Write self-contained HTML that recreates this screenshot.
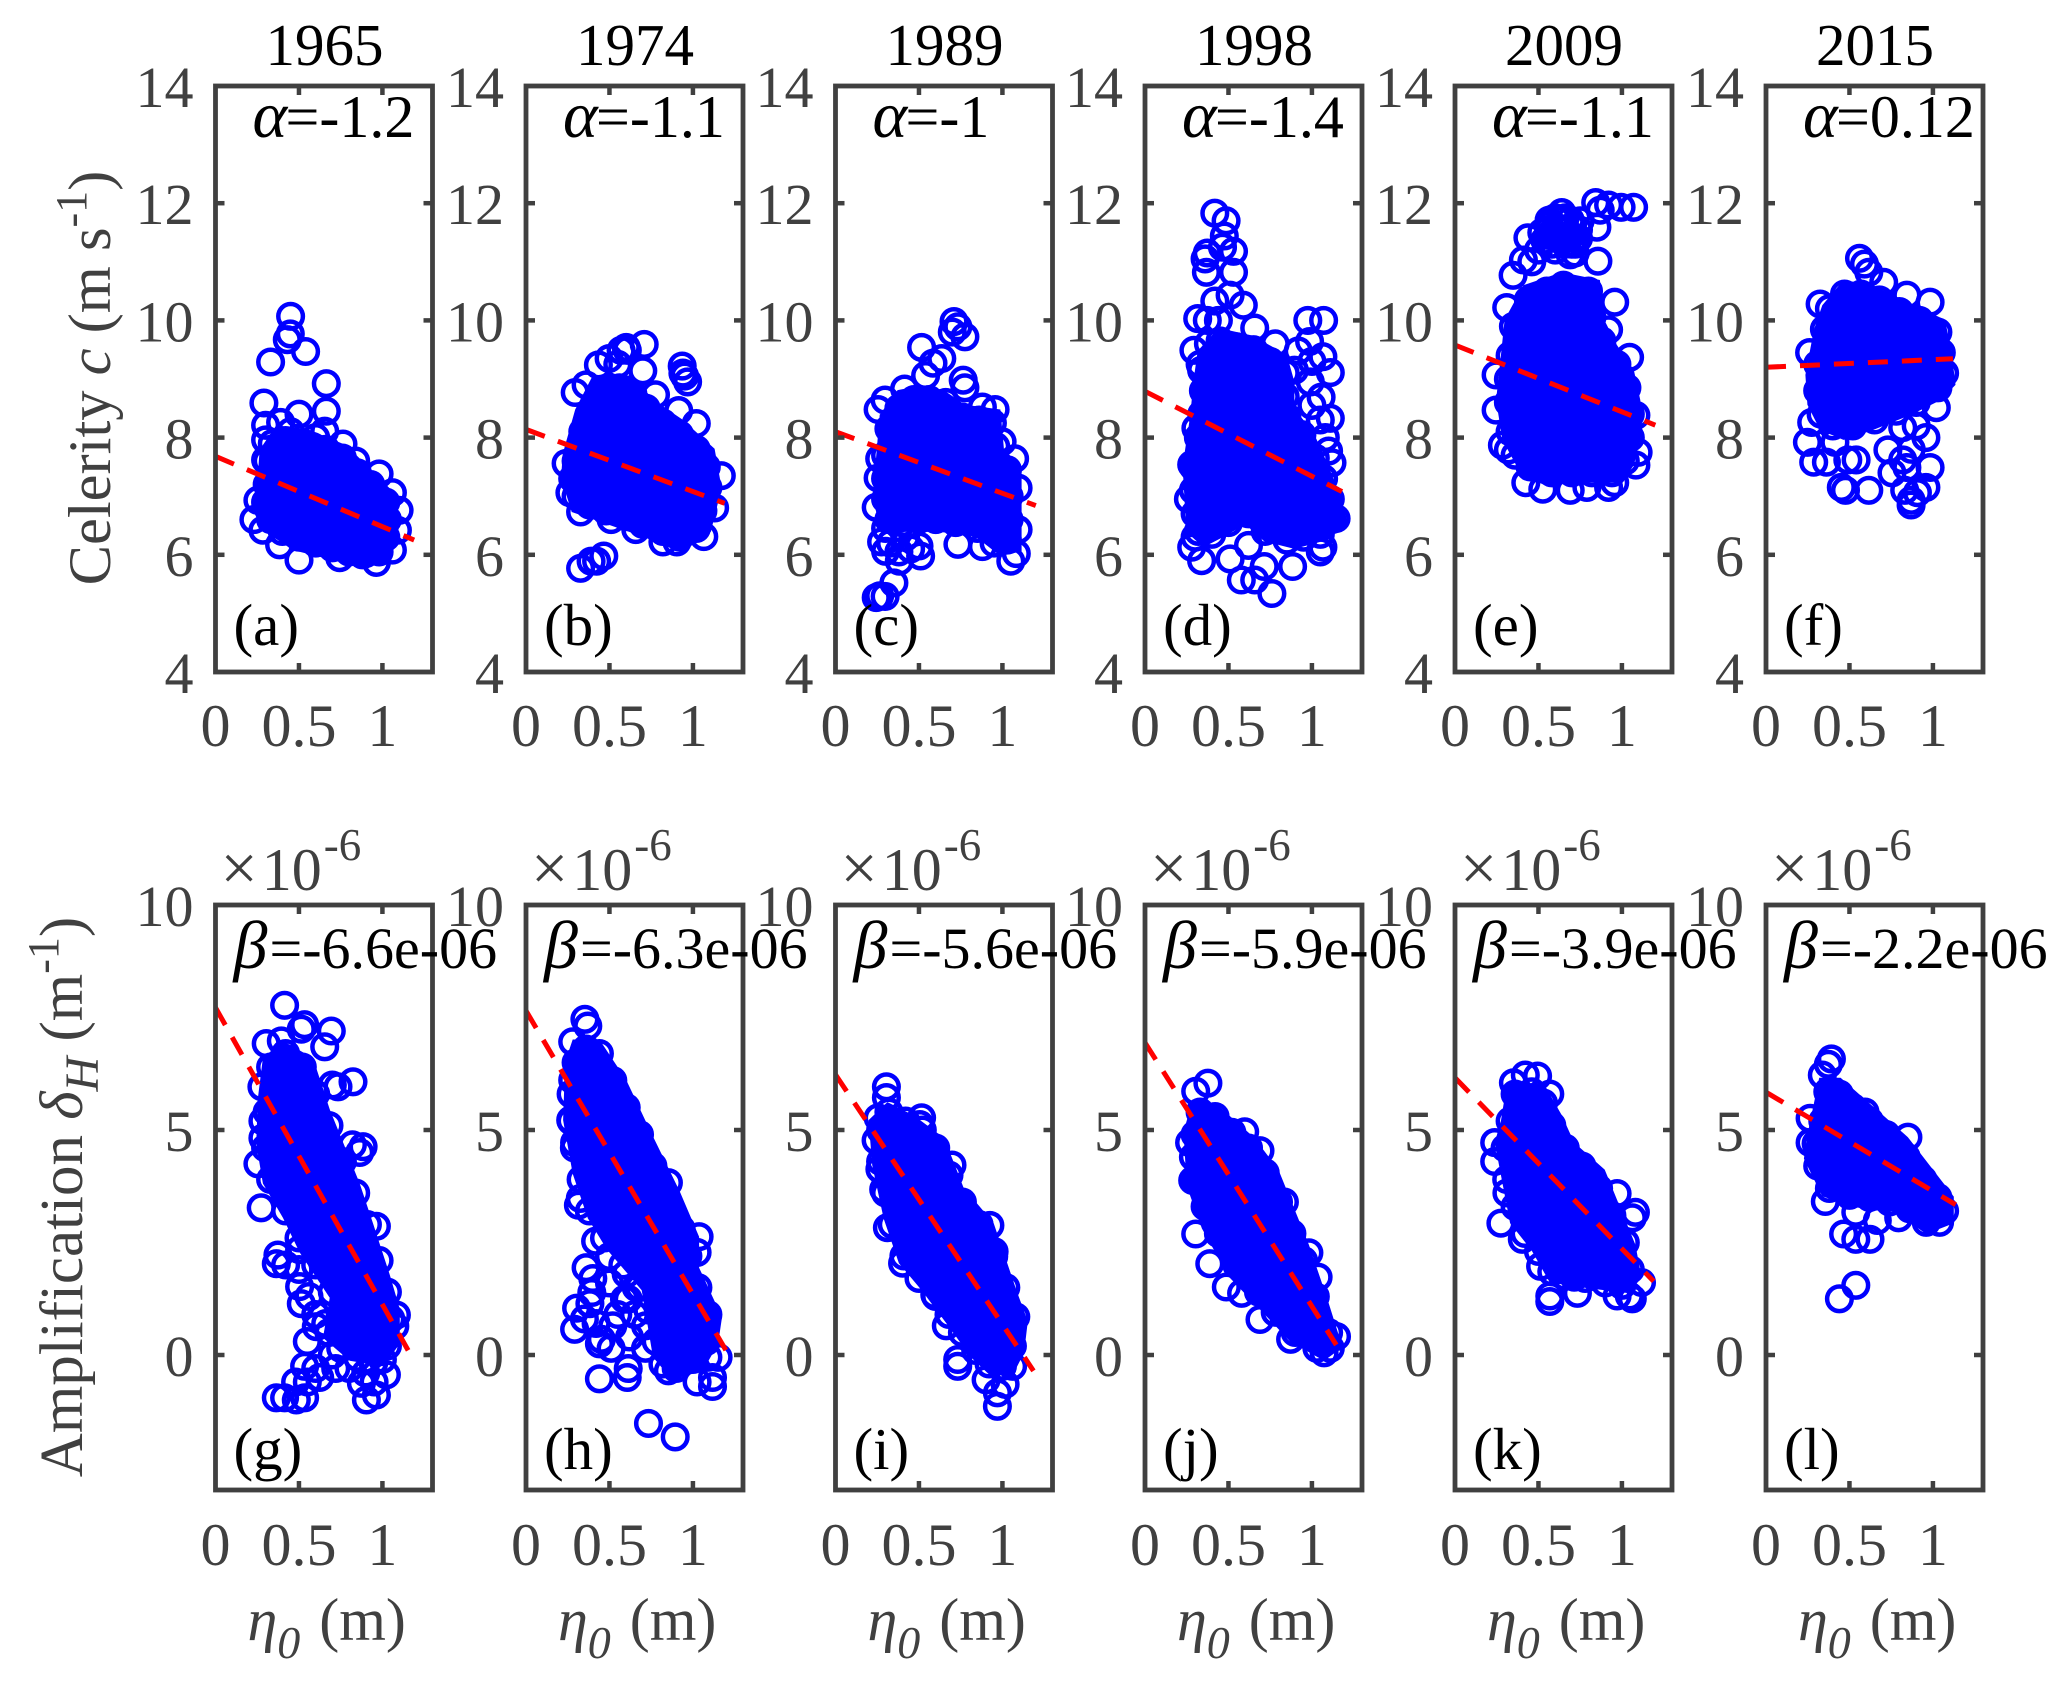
<!DOCTYPE html>
<html lang="en">
<head>
<meta charset="utf-8">
<title>Celerity and amplification versus tidal amplitude</title>
<style>
html,body{margin:0;padding:0;background:#fff;}
svg{display:block;font-family:"Liberation Serif","DejaVu Serif",serif;}
</style>
</head>
<body>
<svg id="chart" xmlns="http://www.w3.org/2000/svg" width="2067" height="1692" viewBox="0 0 2067 1692">
<rect x="0" y="0" width="2067" height="1692" fill="#fff"/>
<text transform="translate(110,378) rotate(-90)" text-anchor="middle" font-size="60.5" fill="#404040">Celerity <tspan font-style="italic">c</tspan> (m s<tspan dy="-24" font-size="44">-1</tspan><tspan dy="24">)</tspan></text>
<text transform="translate(82,1197) rotate(-90)" text-anchor="middle" font-size="61" fill="#404040">Amplification <tspan font-style="italic">δ</tspan><tspan dy="16" font-size="48" font-style="italic">H</tspan><tspan dy="-16"> (m</tspan><tspan dy="-24" font-size="44">-1</tspan><tspan dy="24">)</tspan></text>
</svg>
<script>
const years = ['1965','1974','1989','1998','2009','2015'];
const topLetters = ['(a)','(b)','(c)','(d)','(e)','(f)'];
const bottomLetters = ['(g)','(h)','(i)','(j)','(k)','(l)'];
const alphaLabels = ['-1.2','-1.1','-1','-1.4','-1.1','0.12'];
const betaLabels = ['-6.6e-06','-6.3e-06','-5.6e-06','-5.9e-06','-3.9e-06','-2.2e-06'];
const xTicks = [0,0.5,1];
const xTickLabels = ['0','0.5','1'];
const celerityTicks = [4,6,8,10,12,14];
const amplificationTicks = [0,5,10];

const celerityIntercepts = [7.68,8.14,8.10,8.79,9.58,9.20];
const celeritySlopes = [-1.2,-1.06,-1.05,-1.45,-1.14,0.13];
const celerityFitEnds = [1.19,1.19,1.2,1.18,1.2,1.12];
const amplificationIntercepts = [7.72,7.65,6.23,6.94,6.16,5.84];
const amplificationSlopes = [-6.6,-6.3,-5.55,-5.86,-3.8,-2.2];
const amplificationFitEnds = [1.154,1.197,1.186,1.146,1.19,1.136];

/* Scatter points (eta0 in m, celerity in m/s) */
const pointsA = [[.45,10.07],[.448,9.77],[.43,9.67],[.54,9.47],[.33,9.29],[.664,8.92],[.29,8.59],[.664,8.45],[.5,8.4],[.654,8.11],[.3,8.21],[.39,8.26],[.764,7.89],[.98,7.38],[1.06,7.06],[1.1,6.76],[1.09,6.42],[1.06,6.08],[.964,5.87],[.88,6.0],[.744,5.95],[.5,5.91],[.384,6.17],[.284,6.42],[.23,6.6],[.254,6.93],[.3,7.62],[.3,7.96],[.84,7.6],[.6,8.0],[.45,8.1],
[.31,7.6],[.34,7.9],[.42,7.95],[.5,7.9],[.58,7.85],[.66,7.8],[.76,7.65],[.85,7.4],[.93,7.2],[1.02,6.9],[1.03,6.6],[1.02,6.3],[.98,6.05],[.9,6.02],[.8,6.05],[.7,6.12],[.6,6.2],[.5,6.3],[.4,6.4],[.33,6.6],[.3,6.9],[.31,7.2]];
const coreA = [[.264,7.79],[.364,8.21],[.564,8.13],[.784,7.87],[.904,7.53],[1.084,7.02],[1.104,6.51],[1.044,5.91],[.884,5.78],[.704,5.91],[.464,6.08],[.284,6.42],[.224,6.76],[.254,7.37]];

const pointsB = [[.708,9.59],[.607,9.49],[.57,9.49],[.498,9.35],[.434,9.24],[.6,9.54],[.295,8.77],[.7,9.14],[.936,9.22],[.94,9.1],[.968,8.95],[.95,9.05],[.776,8.73],[.915,8.46],[1.02,8.24],[1.17,7.35],[1.13,6.8],[1.065,6.31],[.904,6.22],[.82,6.22],[.658,6.43],[.51,6.6],[.327,6.73],[.263,7.06],[.24,7.56],[.327,5.77],[.39,5.89],[.466,5.98],[.423,5.89],[.36,8.9],[.55,9.25],
[.3,7.6],[.34,8.1],[.41,8.5],[.47,8.82],[.56,8.85],[.64,8.75],[.72,8.5],[.82,8.25],[.92,8.05],[1.02,7.8],[1.08,7.5],[1.09,7.15],[1.06,6.75],[1.02,6.45],[.92,6.3],[.82,6.4],[.7,6.52],[.6,6.65],[.48,6.75],[.38,6.85],[.3,7.0],[.28,7.3]];
const coreB = [[.22,7.72],[.295,8.48],[.4,9.06],[.637,9.06],[.765,8.64],[.936,8.31],[1.13,7.81],[1.172,7.14],[1.107,6.39],[.915,6.06],[.7,6.31],[.487,6.52],[.274,6.73],[.21,7.31]];

const pointsC = [[.71,9.98],[.733,9.89],[.775,9.72],[.7,9.8],[.516,9.54],[.584,9.27],[.637,9.35],[.54,9.06],[.765,8.98],[.775,8.85],[.414,8.83],[.297,8.64],[.255,8.48],[.956,8.48],[.88,8.52],[.998,7.93],[1.073,7.64],[1.094,7.14],[1.094,6.43],[1.083,6.02],[1.05,5.89],[.88,6.14],[.733,6.18],[.51,5.98],[.382,5.89],[.3,6.06],[.35,5.52],[.244,5.27],[.297,5.29],[.265,5.3],[.276,6.22],[.244,6.81],[.255,7.31],[.265,7.64],
[.32,8.15],[.38,8.5],[.47,8.65],[.56,8.65],[.66,8.6],[.76,8.35],[.86,8.3],[.94,8.25],[.96,7.85],[1.03,7.45],[1.04,7.0],[1.04,6.6],[1.03,6.25],[.95,6.2],[.85,6.45],[.72,6.55],[.6,6.6],[.5,6.6],[.4,6.55],[.32,6.6],[.3,6.95],[.3,7.3],[.3,7.7],[.33,6.2],[.38,6.05],[.45,6.1],[.3,6.45],[.42,6.3],[.5,6.15]];
const coreC = [[.265,8.39],[.372,8.81],[.52,8.89],[.648,8.81],[.775,8.56],[.988,8.48],[1.009,7.81],[1.115,7.48],[1.115,6.64],[1.115,6.06],[.988,5.98],[.839,6.31],[.626,6.39],[.414,6.39],[.329,6.31],[.265,6.48],[.223,6.98]];

const pointsD = [[.418,11.83],[.486,11.7],[.475,11.44],[.373,11.15],[.36,11.05],[.53,11.18],[.464,11.25],[.368,10.82],[.53,10.82],[.51,10.43],[.589,10.26],[.418,10.33],[.316,10.03],[.373,10.0],[.44,10.0],[.657,9.87],[.78,9.6],[.975,10.0],[1.07,10.0],[.986,9.64],[.293,9.49],[1.066,9.38],[1.11,9.11],[1.055,8.69],[1.11,8.33],[1.1,7.77],[1.12,7.57],[1.145,6.62],[1.066,6.13],[1.05,6.05],[.884,5.8],[.714,5.8],[.62,6.16],[.76,5.34],[.657,5.57],[.577,5.57],[.51,5.93],[.339,5.9],[.28,6.13],[.3,6.3],[.26,6.95],[.28,7.54],[.305,8.16],[.339,9.15],[.918,9.48],[.895,9.15],[1.0,9.3],[.99,8.95],[1.0,8.55],[1.05,8.3],[1.08,8.0],
[.33,9.25],[.38,9.6],[.45,9.65],[.55,9.55],[.65,9.5],[.75,9.3],[.84,9.1],[.84,8.7],[.85,8.35],[.94,8.05],[1.02,7.65],[1.07,7.3],[1.11,6.95],[1.12,6.6],[1.05,6.35],[.95,6.3],[.85,6.25],[.72,6.4],[.62,6.7],[.5,6.55],[.4,6.35],[.32,6.4],[.3,6.7],[.29,7.1],[.29,7.5],[.32,8.0],[.34,8.4],[.35,8.8]];
const coreD = [[.316,9.48],[.441,9.87],[.645,9.74],[.85,9.41],[.895,8.95],[.895,8.49],[1.009,8.09],[1.1,7.51],[1.18,6.92],[1.19,6.52],[1.1,6.26],[.895,6.1],[.714,6.23],[.6,6.52],[.486,6.33],[.35,6.13],[.248,6.39],[.225,7.51],[.27,8.36],[.293,9.02]];

const pointsE = [[1.07,11.93],[.995,11.93],[.92,11.97],[.843,12.01],[.87,11.88],[.85,11.59],[.69,11.12],[.856,11.01],[.437,11.41],[.41,11.03],[.348,10.77],[.564,11.71],[.64,11.84],[.31,10.22],[.957,10.31],[.92,9.84],[1.046,9.37],[.246,9.07],[.246,8.47],[1.084,8.38],[1.097,7.75],[1.084,7.53],[.284,7.87],[.32,7.79],[.424,7.23],[.526,7.12],[.69,7.1],[.92,7.15],[.957,7.23],[.79,7.15],[.564,11.63],[.615,11.46],[.69,11.71],[.69,11.46],[.538,11.37],[.64,11.71],[.66,11.3],[.6,11.2],[.5,11.2],[.46,11.0],[.75,11.7],[.74,11.4],[.72,11.15],[.62,11.55],[.56,11.45],[.66,11.55],[.6,11.75],[.7,11.6],[.58,11.3],[.64,11.4],[.7,11.3],[.68,11.4],[.56,11.55],[.74,11.55],[.66,11.75],[.72,11.3],[.6,11.6],[.52,11.5],
[.33,9.4],[.35,9.9],[.44,10.35],[.55,10.5],[.65,10.6],[.8,10.5],[.82,10.05],[.88,9.65],[.97,9.25],[1.03,8.85],[1.05,8.4],[1.05,8.0],[1.02,7.6],[.94,7.4],[.82,7.4],[.7,7.4],[.58,7.4],[.45,7.5],[.36,7.7],[.33,8.1],[.32,8.6],[.32,9.0]];
const coreE = [[.272,9.32],[.297,10.01],[.41,10.6],[.64,10.82],[.868,10.69],[.894,10.01],[.97,9.58],[1.072,9.15],[1.11,8.64],[1.122,8.13],[1.072,7.53],[.996,7.23],[.79,7.23],[.538,7.19],[.399,7.36],[.284,7.96],[.246,8.64]];

const pointsF = [[.56,11.06],[.59,10.96],[.616,10.82],[.705,10.65],[.844,10.43],[.983,10.31],[.324,10.28],[.261,9.45],[.274,8.26],[.248,7.92],[.286,7.58],[.362,7.58],[.54,7.62],[.49,7.62],[.451,7.15],[.476,7.1],[.616,7.1],[.73,7.79],[.755,7.4],[.819,7.62],[.844,7.49],[.983,7.49],[.958,8.0],[.819,8.17],[.831,7.1],[.958,7.15],[.869,6.85],[.869,6.93],[.907,7.06],[1.02,8.51],[.413,7.92],[.87,7.8],[.9,8.2],
[.35,9.85],[.38,10.2],[.47,10.45],[.57,10.45],[.68,10.35],[.8,10.15],[.92,10.0],[1.03,9.8],[1.05,9.45],[1.07,9.1],[1.03,8.85],[.9,8.6],[.78,8.45],[.65,8.3],[.52,8.2],[.4,8.2],[.33,8.4],[.31,8.8],[.31,9.25]];
const coreF = [[.337,10.26],[.464,10.69],[.641,10.6],[.82,10.35],[1.072,10.01],[1.11,9.5],[1.135,8.9],[1.046,8.64],[.869,8.39],[.641,8.13],[.464,7.96],[.324,8.13],[.248,8.56],[.236,9.07],[.287,9.84]];

/* Scatter points (eta0 in m, amplification in 1e-6 per m) */
const pointsG = [[.414,7.77],[.534,7.34],[.514,7.24],[.694,7.2],[.304,6.92],[.394,6.98],[.654,6.85],[.824,6.07],[.734,5.96],[.278,5.96],[.7,6.0],[.284,5.2],[.284,4.82],[.254,4.25],[.274,3.27],[.884,4.63],[.864,4.5],[.82,4.67],[.964,2.86],[.374,2.22],[.364,2.03],[.504,2.34],[.504,1.52],[.514,1.14],[.604,.63],[1.084,.89],[1.074,.64],[.534,-.25],[.624,-.5],[.364,-.95],[.414,-.95],[.534,-.95],[.484,-1.0],[.904,-1.0],[.964,-.89],[1.024,-.44],[.874,-.63],
[.33,6.4],[.42,6.7],[.52,6.4],[.6,5.8],[.68,5.1],[.76,4.3],[.84,3.6],[.91,2.9],[.98,2.1],[1.03,1.4],[1.05,.8],[1.03,.2],[.95,-.15],[.85,-.05],[.75,.15],[.68,.5],[.6,.9],[.7,1.4],[.6,2.0],[.5,2.6],[.42,3.2],[.33,3.9],[.3,4.6],[.31,5.4],[.42,2.0],[.5,1.9],[.56,1.3],[.66,.7],[.55,.3],[.7,.0],[.6,-.3],[.48,-.6],[.55,-.6],[.72,-.3],[.95,-.6],[.9,-.4],[1.0,-.1],[.8,-.3]];
const coreG = [[.284,6.6],[.404,6.98],[.584,6.6],[.684,5.46],[.864,3.81],[.944,2.92],[1.044,1.78],[1.104,1.02],[1.104,.25],[1.004,-.25],[.804,-.13],[.644,.38],[.684,1.27],[.504,2.28],[.404,3.05],[.284,3.81],[.244,4.7],[.254,5.71]];

const pointsH = [[.353,7.46],[.37,7.31],[.28,6.96],[.28,6.11],[.268,5.22],[.291,4.72],[.314,3.33],[.325,3.48],[.417,2.53],[.36,1.94],[.394,1.39],[.303,1.04],[.383,1.14],[.291,.57],[.52,.65],[.452,.35],[.44,.25],[.51,.15],[.59,1.24],[.612,1.24],[.716,.65],[.716,.15],[.44,-.53],[.606,-.5],[.612,-.3],[.734,-1.52],[.894,-1.82],[.853,-.35],[1.025,-.6],[1.117,-.7],[1.117,-.5],[1.151,-.05],[1.09,-.05],[1.037,2.63],[1.025,2.28],[.853,3.83],[.5,2.19],
[.3,6.5],[.36,6.8],[.44,6.7],[.52,6.1],[.6,5.5],[.68,4.9],[.76,4.2],[.84,3.5],[.93,2.8],[.97,2.2],[1.03,1.5],[1.09,.9],[1.08,.3],[1.0,-.1],[.9,-.3],[.82,-.2],[.78,.3],[.73,1.0],[.68,1.5],[.58,2.0],[.47,2.6],[.38,3.2],[.33,3.9],[.29,4.6],[.27,5.2],[.27,5.8],[.4,1.7],[.5,1.6],[.6,1.8],[.66,1.5],[.55,.9],[.42,.7],[.35,.8],[.62,.4],[.65,.9]];
const coreH = [[.234,6.51],[.28,7.01],[.44,7.01],[.601,6.11],[.739,5.02],[.922,3.63],[1.037,2.63],[1.037,1.94],[1.174,.84],[1.151,.25],[1.06,-.35],[.876,-.55],[.761,-.05],[.693,1.44],[.486,2.34],[.37,3.04],[.28,4.03],[.222,5.22]];

const pointsI = [[.305,5.96],[.305,5.72],[.516,5.27],[.505,5.12],[.255,5.27],[.243,4.77],[.266,4.13],[.289,3.68],[.698,4.22],[.311,2.83],[.925,2.88],[.948,2.19],[.402,2.04],[.595,1.34],[.664,.65],[.732,-.25],[.732,-.1],[1.061,-.25],[1.016,-.65],[.97,-.84],[.97,-1.14],[.902,-.55],
[.27,5.0],[.32,5.4],[.42,5.2],[.52,5.0],[.6,4.6],[.68,4.0],[.76,3.4],[.86,2.9],[.95,2.3],[1.02,1.5],[1.08,.85],[1.06,.2],[1.0,-.25],[.92,-.2],[.84,.1],[.76,.5],[.68,.9],[.6,1.3],[.5,1.7],[.41,2.2],[.34,2.9],[.3,3.6],[.27,4.3]];
const coreI = [[.198,5.22],[.311,5.62],[.47,5.32],[.652,4.82],[.766,3.73],[.948,2.93],[1.084,1.44],[1.152,.75],[1.13,.05],[1.061,-.45],[.925,-.45],[.811,-.05],[.675,.65],[.516,1.44],[.38,2.04],[.289,3.03],[.22,4.22]];

const pointsJ = [[.377,6.04],[.304,5.86],[.267,4.72],[.286,3.88],[.304,2.69],[.388,2.03],[.487,1.51],[.579,1.37],[.689,.79],[.872,.35],[1.073,.05],[1.147,.41],[1.037,1.73],[.982,2.27],[.835,3.4],[.689,4.54],[.597,4.96],
[.3,4.9],[.33,5.4],[.42,5.3],[.52,4.95],[.62,4.6],[.72,4.05],[.8,3.4],[.88,2.7],[.95,2.1],[1.02,1.3],[1.1,.5],[1.11,.15],[1.03,.15],[.9,.5],[.78,.95],[.68,1.4],[.55,2.0],[.44,2.7],[.36,3.3],[.31,3.9],[.29,4.4]];
const coreJ = [[.231,4.96],[.286,5.68],[.432,5.56],[.652,4.84],[.799,4.12],[.982,2.45],[1.092,1.25],[1.183,.17],[1.073,-.13],[.872,.29],[.689,1.01],[.505,1.73],[.341,2.81],[.249,3.76]];

const pointsK = [[.421,6.22],[.495,6.2],[.35,6.05],[.568,5.8],[.238,4.72],[.238,4.3],[.275,2.93],[.403,2.57],[.311,3.6],[.971,3.59],[1.081,3.17],[1.062,3.05],[.513,1.97],[.568,1.31],[.568,1.19],[.733,1.37],[1.062,1.25],[1.044,1.31],[.971,1.31],[1.117,1.61],[.714,1.73],
[.33,5.2],[.36,5.8],[.46,5.85],[.53,5.6],[.58,5.1],[.66,4.6],[.76,4.2],[.86,3.7],[.94,3.1],[1.02,2.5],[1.05,1.9],[1.0,1.55],[.9,1.6],[.78,1.7],[.66,1.75],[.58,1.85],[.5,2.3],[.42,2.7],[.36,3.3],[.31,3.9],[.3,4.6]];
const coreK = [[.275,5.2],[.311,6.04],[.531,6.04],[.641,5.32],[.714,4.72],[.897,4.12],[1.081,2.45],[1.117,1.73],[1.044,1.37],[.788,1.49],[.568,1.61],[.458,2.33],[.33,2.93],[.275,4.0],[.238,4.72]];

const pointsL = [[.392,6.58],[.374,6.46],[.337,6.22],[.264,5.26],[.264,4.72],[.355,3.41],[.465,2.69],[.538,2.57],[.623,2.57],[.538,1.55],[.44,1.25],[.667,2.99],[.795,3.05],[.538,3.17],[.85,4.84],[.593,5.4],
[.3,4.7],[.34,5.2],[.37,5.85],[.44,5.8],[.52,5.5],[.62,5.2],[.72,4.9],[.84,4.4],[.94,3.9],[1.03,3.5],[1.07,3.2],[1.04,2.95],[.96,2.95],[.86,3.25],[.74,3.4],[.62,3.5],[.5,3.55],[.38,3.7],[.31,4.2]];
const coreL = [[.245,4.84],[.319,6.16],[.447,6.16],[.593,5.68],[.85,4.84],[1.125,3.52],[1.125,2.93],[.96,2.69],[.777,3.17],[.52,3.29],[.337,3.53],[.227,4.36]];

const topPoints = [pointsA,pointsB,pointsC,pointsD,pointsE,pointsF];
const topCores = [coreA,coreB,coreC,coreD,coreE,coreF];
const bottomPoints = [pointsG,pointsH,pointsI,pointsJ,pointsK,pointsL];
const bottomCores = [coreG,coreH,coreI,coreJ,coreK,coreL];

const NS = 'http://www.w3.org/2000/svg';
const svg = document.getElementById('chart');
const frameLefts = [215.5,526,835.5,1145,1455,1766];
const frameWidth = 217;
const xMax = 1.3;
const topRow = {top:86,bottom:672,min:4,max:14};
const bottomRow = {top:905,bottom:1490,min:-3,max:10};
const GRAY = '#404040';

function xScale(col,v){ return frameLefts[col] + v/xMax*frameWidth; }
function yScale(row,v){ return row.bottom - (v-row.min)/(row.max-row.min)*(row.bottom-row.top); }
function make(tag,parent){ const e=document.createElementNS(NS,tag); parent.appendChild(e); return e; }
function put(e,o){ for(const k in o){ e.setAttribute(k,o[k]); } return e; }

function drawPanel(col,row,letter,points,core,intercept,slope,fitEnd){
  const g = make('g',svg);
  
  

  const blob = make('polygon',g);
  
  
  put(blob,{points:core.map(p=>xScale(col,p[0]).toFixed(1)+','+yScale(row,p[1]).toFixed(1)).join(' '),fill:'#0000ff'});

  points.forEach(function(p){
    const c = make('circle',g);
    
    
    put(c,{cx:xScale(col,p[0]).toFixed(1),cy:yScale(row,p[1]).toFixed(1),r:12.3,fill:'none',stroke:'#0000ff','stroke-width':4.5});
  });

  const fit = make('line',g);
  
  
  put(fit,{x1:xScale(col,0),y1:yScale(row,intercept),x2:xScale(col,fitEnd),y2:yScale(row,intercept+slope*fitEnd),stroke:'#ff0000','stroke-width':5,'stroke-dasharray':'20 14'});

  const frame = make('rect',g);
  
  
  put(frame,{x:frameLefts[col],y:row.top,width:frameWidth,height:row.bottom-row.top,fill:'none',stroke:GRAY,'stroke-width':4.8});

  const labelBase = row.bottom + (row===topRow ? 74 : 75);
  xTicks.forEach(function(v,i){
    const px = xScale(col,v);
    if(v>0){
      const t1 = make('line',g);
      
      
      put(t1,{x1:px,x2:px,y1:row.bottom,y2:row.bottom-9,stroke:GRAY,'stroke-width':4.5});
      const t2 = make('line',g);
      
      
      put(t2,{x1:px,x2:px,y1:row.top,y2:row.top+9,stroke:GRAY,'stroke-width':4.5});
    }
    const lab = make('text',g);
    
    
    put(lab,{x:px,y:labelBase,'text-anchor':'middle','font-size':60,fill:GRAY});
    lab.textContent = xTickLabels[i];
  });

  const yTicks = row===topRow ? celerityTicks : amplificationTicks;
  yTicks.forEach(function(v){
    const py = yScale(row,v);
    if(v!==row.min && v!==row.max){
      const t1 = make('line',g);
      
      
      put(t1,{x1:frameLefts[col],x2:frameLefts[col]+9,y1:py,y2:py,stroke:GRAY,'stroke-width':4.5});
      const t2 = make('line',g);
      
      
      put(t2,{x1:frameLefts[col]+frameWidth,x2:frameLefts[col]+frameWidth-9,y1:py,y2:py,stroke:GRAY,'stroke-width':4.5});
    }
    const lab = make('text',g);
    
    
    put(lab,{x:frameLefts[col]-22,y:py+21,'text-anchor':'end','font-size':58,fill:GRAY});
    lab.textContent = String(v);
  });

  const let1 = make('text',g);
  
  
  put(let1,{x:frameLefts[col]+18,y:row.bottom-(row===topRow?27:21),'font-size':59,fill:'#000'});
  let1.textContent = letter;
}

years.forEach(function(year,col){
  drawPanel(col,topRow,topLetters[col],topPoints[col],topCores[col],celerityIntercepts[col],celeritySlopes[col],celerityFitEnds[col]);
  drawPanel(col,bottomRow,bottomLetters[col],bottomPoints[col],bottomCores[col],amplificationIntercepts[col],amplificationSlopes[col],amplificationFitEnds[col]);
  const left = frameLefts[col];

  const title = make('text',svg);
  
  
  put(title,{x:left+109,y:65,'text-anchor':'middle','font-size':59,fill:'#000'});
  title.textContent = year;

  const alphaSym = make('text',svg);
  
  
  put(alphaSym,{x:left+37,y:137,'font-size':66,'font-style':'italic',fill:'#000'});
  alphaSym.textContent = 'α';

  const alphaVal = make('text',svg);
  
  
  put(alphaVal,{x:left+70,y:137,'font-size':60,fill:'#000'});
  alphaVal.textContent = '=' + alphaLabels[col];

  const exp = make('text',svg);
  
  
  put(exp,{x:left+5,y:890,'font-size':60,fill:GRAY});
  const expTimes = make('tspan',exp);
  put(expTimes,{'font-size':66});
  expTimes.textContent = '×';
  const expMain = make('tspan',exp);
  put(expMain,{dx:4});
  expMain.textContent = '10';
  const expSup = make('tspan',exp);
  put(expSup,{dy:-30,dx:2,'font-size':45});
  expSup.textContent = '-6';

  const betaSym = make('text',svg);
  
  
  put(betaSym,{x:left+18,y:968,'font-size':68,'font-style':'italic',fill:'#000'});
  betaSym.textContent = 'β';

  const betaVal = make('text',svg);
  
  
  put(betaVal,{x:left+54,y:968,'font-size':58,fill:'#000'});
  betaVal.textContent = '=' + betaLabels[col];

  const xTitle = make('text',svg);
  
  
  put(xTitle,{x:left+32,y:1640,'font-size':60,fill:GRAY});
  const eta = make('tspan',xTitle);
  put(eta,{'font-style':'italic'});
  eta.textContent = 'η';
  const sub = make('tspan',xTitle);
  put(sub,{dy:18,'font-size':46,'font-style':'italic'});
  sub.textContent = '0';
  const unit = make('tspan',xTitle);
  put(unit,{dy:-18,dx:4});
  unit.textContent = ' (m)';
});
</script>
</body>
</html>
